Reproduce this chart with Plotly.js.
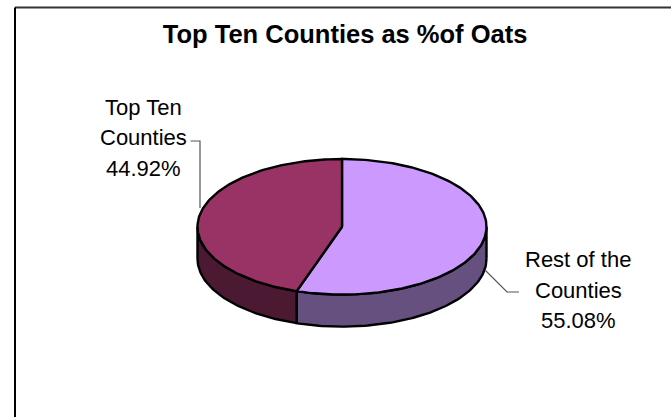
<!DOCTYPE html>
<html><head><meta charset="utf-8">
<script src="https://cdn.plot.ly/plotly-3.0.1.min.js"></script>
<style>html,body{margin:0;padding:0;background:#fff}</style></head>
<body><div id="chart" style="width:671px;height:417px"></div>
<script>
const categories = ["Rest of the Counties", "Top Ten Counties"];
const values = [55.08, 44.92];
const topColors = ["#CC99FF", "#993366"];
const sideColors = ["#65507F", "#4C1933"];
const labelLines = [["Rest of the", "Counties", "55.08%"], ["Top Ten", "Counties", "44.92%"]];

const cx = 342, cy = 226.8, rx = 144.5, ry = 67.8, depth = 32;
const total = values.reduce((a, b) => a + b, 0);
const px = t => cx + rx * Math.sin(t);
const py = (t, d) => cy - ry * Math.cos(t) + d;

function arc(a, b) {
  const out = [], n = Math.max(2, Math.ceil(Math.abs(b - a) / 0.02));
  for (let i = 0; i <= n; i++) out.push(a + (b - a) * i / n);
  return out;
}
const line = {color: "#000", width: 2.4};
const traces = [];
let start = 0;
values.forEach((v, i) => {
  const end = start + v / total * 2 * Math.PI;
  const a = Math.max(start, Math.PI / 2), b = Math.min(end, 3 * Math.PI / 2);
  if (b > a) {
    const front = arc(a, b), back = arc(b, a);
    traces.push({
      type: "scatter", mode: "lines", fill: "toself", fillcolor: sideColors[i], line,
      x: front.map(px).concat(back.map(px), [px(a)]),
      y: front.map(t => py(t, depth)).concat(back.map(t => py(t, 0)), [py(a, depth)]),
      hoverinfo: "skip", showlegend: false
    });
  }
  const top = arc(start, end);
  traces.push({
    type: "scatter", mode: "lines", fill: "toself", fillcolor: topColors[i], line,
    x: [cx].concat(top.map(px), [cx]),
    y: [cy].concat(top.map(t => py(t, 0)), [cy]),
    name: categories[i], showlegend: false
  });
  start = end;
});

const family = "Liberation Sans, Arial, sans-serif";
const font = {family, size: 22, color: "#000"};
const anchors = [{x: 578, ys: [259.5, 290, 320.5]}, {x: 143, ys: [107, 137.5, 168]}];
const annotations = [];
anchors.forEach((p, i) => p.ys.forEach((y, j) => annotations.push({
  x: p.x, y, text: labelLines[i][j], xref: "x", yref: "y", showarrow: false,
  font, xanchor: "center", yanchor: "middle"
})));

const leader = {color: "#555", width: 1.2};
const shapes = [
  {type: "line", x0: 15, y0: 7.5, x1: 671, y1: 7.5, line: {color: "#333", width: 2}},
  {type: "line", x0: 15, y0: 7.5, x1: 15, y1: 417, line: {color: "#000", width: 2}},
  {type: "path", path: "M 190.5 141 H 200 V 208", line: leader},
  {type: "path", path: "M 485 270 L 507 292 H 519", line: leader}
].map(s => Object.assign(s, {xref: "x", yref: "y"}));

Plotly.newPlot("chart", traces, {
  width: 671, height: 417,
  margin: {l: 0, r: 0, t: 0, b: 0},
  paper_bgcolor: "#fff", plot_bgcolor: "#fff",
  title: {text: "<b>Top Ten Counties as %of Oats</b>", x: 0.5143, xanchor: "center", y: 0.919, yanchor: "middle",
          font: {family, size: 25.5, color: "#000"}},
  xaxis: {range: [0, 671], visible: false, fixedrange: true},
  yaxis: {range: [417, 0], visible: false, fixedrange: true},
  annotations, shapes, showlegend: false
}, {displayModeBar: false, staticPlot: true});
</script></body></html>
